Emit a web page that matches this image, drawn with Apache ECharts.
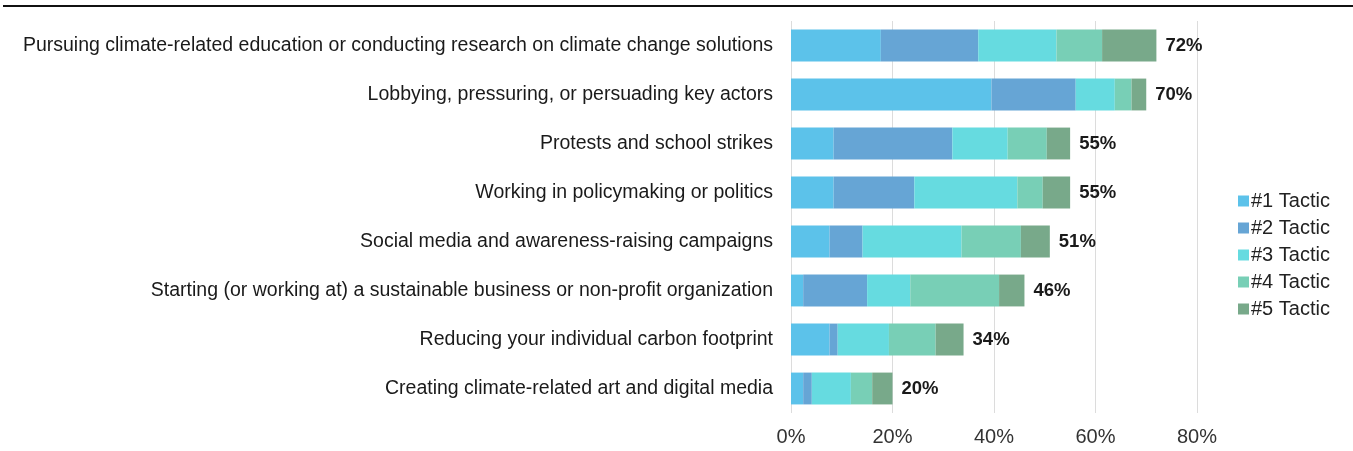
<!DOCTYPE html>
<html>
<head>
<meta charset="utf-8">
<script src="https://cdn.jsdelivr.net/npm/echarts@6/dist/echarts.min.js"></script>
<style>
  html, body { margin: 0; padding: 0; background: #fff; }
  #chart { width: 1353px; height: 451px; }
</style>
</head>
<body>
<div id="chart"></div>
<script>
// Climate action tactics, share of respondents ranking each tactic #1..#5
const categories = [
  'Pursuing climate-related education or conducting research on climate change solutions',
  'Lobbying, pressuring, or persuading key actors',
  'Protests and school strikes',
  'Working in policymaking or politics',
  'Social media and awareness-raising campaigns',
  'Starting (or working at) a sustainable business or non-profit organization',
  'Reducing your individual carbon footprint',
  'Creating climate-related art and digital media'
];
const seriesNames = ['#1 Tactic', '#2 Tactic', '#3 Tactic', '#4 Tactic', '#5 Tactic'];
const tactic1 = [17.7, 39.5, 8.4, 8.4, 7.6, 2.4, 7.6, 2.4];
const tactic2 = [19.2, 16.6, 23.4, 15.9, 6.5, 12.6, 1.6, 1.7];
const tactic3 = [15.4, 7.7, 10.9, 20.3, 19.5, 8.5, 10.1, 7.7];
const tactic4 = [9.0, 3.3, 7.7, 5.0, 11.7, 17.5, 9.2, 4.2];
const tactic5 = [10.7, 2.9, 4.6, 5.4, 5.7, 5.0, 5.5, 4.0];
const totals = [72, 70, 55, 55, 51, 46, 34, 20];
const xTicks = [0, 20, 40, 60, 80];

const colors = ['#5cc2ea', '#66a5d5', '#66dbe0', '#78cfb6', '#78a98a'];
const values = [tactic1, tactic2, tactic3, tactic4, tactic5];
const FONT = 'Liberation Sans, Arial, sans-serif';

const series = values.map((vals, i) => ({
  name: seriesNames[i],
  type: 'bar',
  stack: 'total',
  barCategoryGap: '35%',
  itemStyle: { color: colors[i] },
  emphasis: { disabled: true },
  data: vals,
  label: i === values.length - 1 ? {
    show: true,
    position: 'right',
    distance: 9,
    fontFamily: FONT,
    fontSize: 18.5,
    fontWeight: 'bold',
    color: '#1a1a1a',
    formatter: p => totals[p.dataIndex] + '%'
  } : { show: false }
}));

const chart = echarts.init(document.getElementById('chart'), null, { renderer: 'canvas' });
chart.setOption({
  animation: false,
  backgroundColor: '#ffffff',
  textStyle: { fontFamily: FONT },
  graphic: [{
    type: 'rect',
    shape: { x: 3, y: 5, width: 1350, height: 2 },
    style: { fill: '#111' },
    silent: true
  }],
  grid: { left: 791, right: 156, top: 21, bottom: 38, containLabel: false },
  legend: {
    orient: 'vertical',
    left: 1238,
    top: 191,
    padding: 0,
    icon: 'rect',
    itemWidth: 11,
    itemHeight: 11,
    itemGap: 7,
    textStyle: { fontFamily: FONT, fontSize: 20, color: '#222', padding: [0, 0, 0, -3] },
    data: seriesNames
  },
  xAxis: {
    type: 'value',
    min: 0,
    max: 80,
    interval: 20,
    axisLine: { show: false },
    axisTick: { show: false },
    splitLine: { show: true, lineStyle: { color: '#dcdcdc', width: 1 } },
    axisLabel: {
      fontFamily: FONT,
      fontSize: 20,
      color: '#333',
      margin: 14,
      formatter: v => (xTicks.includes(v) ? v + '%' : '')
    }
  },
  yAxis: {
    type: 'category',
    inverse: true,
    data: categories,
    axisLine: { show: false },
    axisTick: { show: false },
    axisLabel: {
      fontFamily: FONT,
      fontSize: 19.5,
      color: '#1a1a1a',
      margin: 18
    }
  },
  series: series
});
</script>
</body>
</html>
